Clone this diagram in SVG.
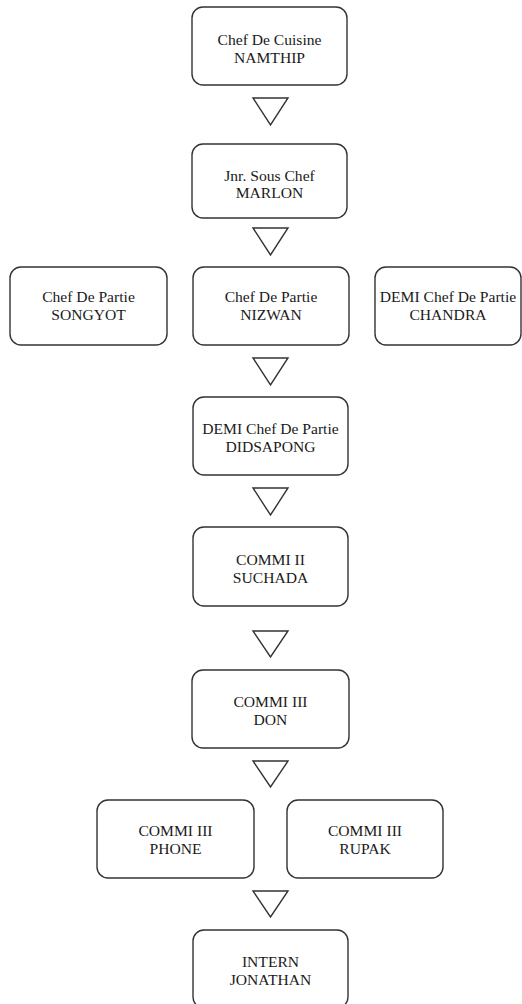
<svg xmlns="http://www.w3.org/2000/svg" width="522" height="1004" viewBox="0 0 522 1004">
<style>
.box{fill:#ffffff;stroke:#333333;stroke-width:1.4}
.tri{fill:#ffffff;stroke:#333333;stroke-width:1.4;stroke-linejoin:miter}
text{font-family:"Liberation Serif","Times New Roman",serif;font-size:15.6px;fill:#1a1a1a;text-anchor:middle}
</style>
<rect width="522" height="1004" fill="#ffffff"/>
<g id="connectors">
<polygon class="tri" points="253,98 288,98 270.5,125"/>
<polygon class="tri" points="253,228 288,228 270.5,255"/>
<polygon class="tri" points="253,358 288,358 270.5,385"/>
<polygon class="tri" points="253,488 288,488 270.5,515"/>
<polygon class="tri" points="253,631 288,631 270.5,657"/>
<polygon class="tri" points="253,761 288,761 270.5,787"/>
<polygon class="tri" points="253,891 288,891 270.5,917"/>
</g>
<g id="namthip">
<rect class="box" x="192" y="7" width="155" height="78" rx="11"/>
<text x="269.5" y="45">Chef De Cuisine</text>
<text x="269.5" y="63">NAMTHIP</text>
</g>
<g id="marlon">
<rect class="box" x="192" y="144" width="155" height="74" rx="11"/>
<text x="269.5" y="181">Jnr. Sous Chef</text>
<text x="269.5" y="198">MARLON</text>
</g>
<g id="songyot">
<rect class="box" x="10" y="267" width="157" height="78" rx="11"/>
<text x="88.5" y="302">Chef De Partie</text>
<text x="88.5" y="320">SONGYOT</text>
</g>
<g id="nizwan">
<rect class="box" x="193" y="267" width="156" height="78" rx="11"/>
<text x="271" y="302">Chef De Partie</text>
<text x="271" y="320">NIZWAN</text>
</g>
<g id="chandra">
<rect class="box" x="375" y="267" width="146" height="78" rx="11"/>
<text x="448" y="302">DEMI Chef De Partie</text>
<text x="448" y="320">CHANDRA</text>
</g>
<g id="didsapong">
<rect class="box" x="193" y="397" width="155" height="78" rx="11"/>
<text x="270.5" y="434">DEMI Chef De Partie</text>
<text x="270.5" y="452">DIDSAPONG</text>
</g>
<g id="suchada">
<rect class="box" x="193" y="527" width="155" height="79" rx="11"/>
<text x="270.5" y="565">COMMI II</text>
<text x="270.5" y="583">SUCHADA</text>
</g>
<g id="don">
<rect class="box" x="192" y="670" width="157" height="78" rx="11"/>
<text x="270.5" y="707">COMMI III</text>
<text x="270.5" y="725">DON</text>
</g>
<g id="phone">
<rect class="box" x="97" y="800" width="157" height="78" rx="11"/>
<text x="175.5" y="836">COMMI III</text>
<text x="175.5" y="854">PHONE</text>
</g>
<g id="rupak">
<rect class="box" x="287" y="800" width="156" height="78" rx="11"/>
<text x="365" y="836">COMMI III</text>
<text x="365" y="854">RUPAK</text>
</g>
<g id="intern">
<rect class="box" x="193" y="930" width="155" height="78" rx="11"/>
<text x="270.5" y="967">INTERN</text>
<text x="270.5" y="985">JONATHAN</text>
</g>
</svg>
